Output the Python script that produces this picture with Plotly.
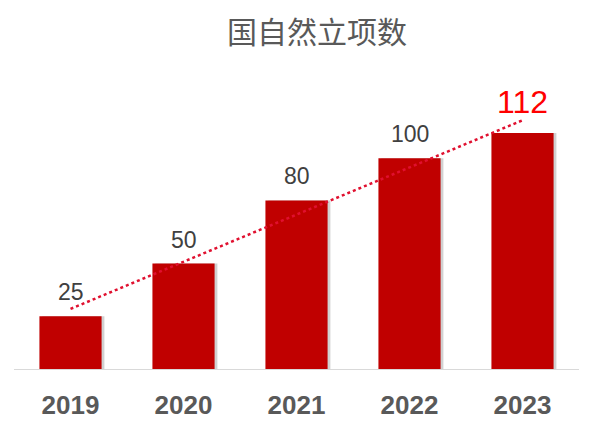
import plotly.graph_objects as go

years = ["2019", "2020", "2021", "2022", "2023"]
counts = [25, 50, 80, 100, 112]
trend_years = ["2019", "2023"]
trend_y = [28.5, 118]
title_text = "国自然立项数"

bar_color = "#C00000"
label_colors = ["#404040", "#404040", "#404040", "#404040", "#FF0000"]
label_sizes = [23, 23, 23, 23, 32]
label_shifts = [24, 24, 24, 24, 31]

xpos = list(range(len(years)))
trend_x = [years.index(t) for t in trend_years]

fig = go.Figure()
# soft shadow
fig.add_trace(go.Bar(x=xpos, y=counts, width=0.55, offset=-0.25,
                     marker=dict(color="rgba(0,0,0,0.18)", line=dict(width=0)),
                     hoverinfo="skip", showlegend=False))
fig.add_trace(go.Bar(x=xpos, y=counts, width=0.55, offset=-0.275,
                     marker=dict(color=bar_color, line=dict(width=0)),
                     showlegend=False))
fig.add_trace(go.Scatter(x=trend_x, y=trend_y, mode="lines",
                         line=dict(color="#E0102F", width=2.5, dash="dot"),
                         showlegend=False))

for xp, v, c, s, sh in zip(xpos, counts, label_colors, label_sizes, label_shifts):
    fig.add_annotation(x=xp, y=v, text=str(v), showarrow=False,
                       yanchor="middle", yshift=sh,
                       font=dict(family="Liberation Sans", size=s, color=c))

fig.update_layout(
    width=600, height=440,
    margin=dict(l=6, r=29, t=87, b=79),
    paper_bgcolor="white", plot_bgcolor="white",
    barmode="overlay",
    title=dict(text=title_text, x=0.515, xanchor="center", y=0.944, yanchor="middle",
               xref="container", yref="container",
               font=dict(family="Noto Sans CJK SC", size=30, color="#595959")),
    xaxis=dict(range=[-0.5, len(years) - 0.5], tickmode="array",
               tickvals=xpos, ticktext=years,
               showline=True, linecolor="#D9D9D9", linewidth=1,
               ticks="outside", ticklen=13, tickcolor="rgba(0,0,0,0)",
               tickfont=dict(family="Liberation Sans", size=26, color="#595959",
                             weight="bold"),
               showgrid=False, zeroline=False),
    yaxis=dict(range=[0, 130], visible=False, showgrid=False, zeroline=False),
)

fig.write_html("out.html")
